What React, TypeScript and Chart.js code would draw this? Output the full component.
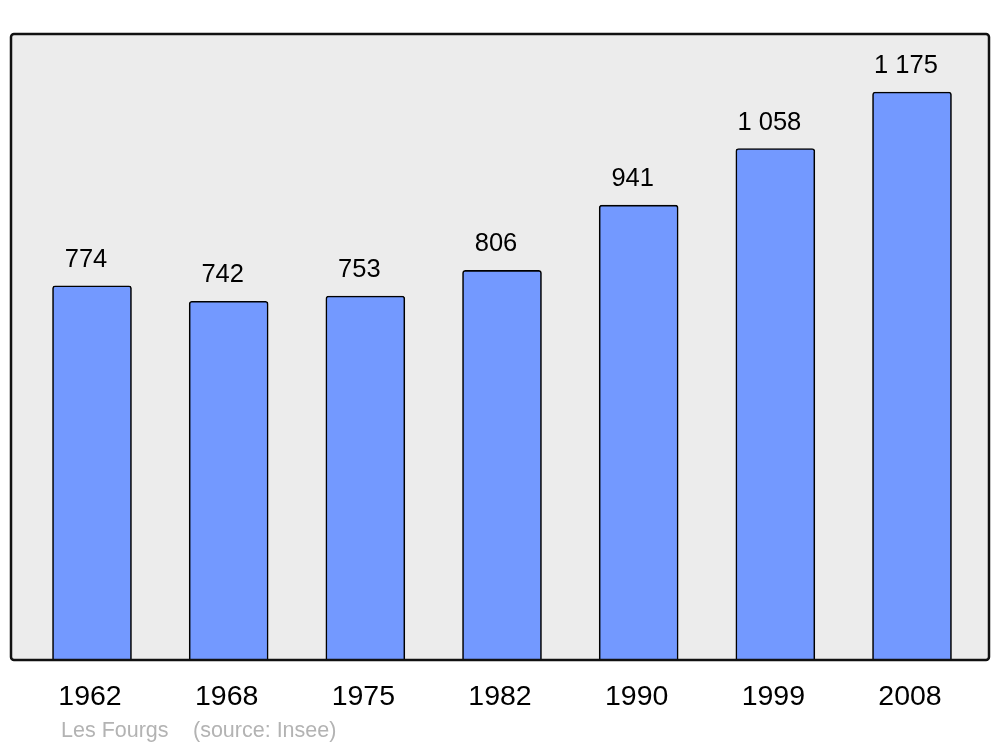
import React, { useEffect, useRef } from "react";
import { Chart, registerables } from "chart.js";

Chart.register(...registerables);

const years: string[] = ["1962", "1968", "1975", "1982", "1990", "1999", "2008"];
const population: number[] = [774, 742, 753, 806, 941, 1058, 1175];
const sourceTitle = "Les Fourgs";
const sourceNote = "(source: Insee)";

const fmt = (v: number) => {
  const s = String(v);
  return s.length > 3 ? s.slice(0, s.length - 3) + " " + s.slice(s.length - 3) : s;
};

const FONT = '"Liberation Sans", Arial, sans-serif';

function roundRectPath(ctx: CanvasRenderingContext2D, x: number, y: number, w: number, h: number, r: number) {
  ctx.beginPath();
  ctx.moveTo(x + r, y);
  ctx.lineTo(x + w - r, y);
  ctx.arcTo(x + w, y, x + w, y + r, r);
  ctx.lineTo(x + w, y + h - r);
  ctx.arcTo(x + w, y + h, x + w - r, y + h, r);
  ctx.lineTo(x + r, y + h);
  ctx.arcTo(x, y + h, x, y + h - r, r);
  ctx.lineTo(x, y + r);
  ctx.arcTo(x, y, x + r, y, r);
  ctx.closePath();
}

const framePlugin = {
  id: "frame",
  beforeDatasetsDraw(chart: any) {
    const { ctx, chartArea: a } = chart;
    ctx.save();
    roundRectPath(ctx, a.left, a.top, a.right - a.left, a.bottom - a.top, 3);
    ctx.fillStyle = "#ececec";
    ctx.fill();
    ctx.restore();
  },
  afterDatasetsDraw(chart: any) {
    const { ctx, chartArea: a } = chart;
    ctx.save();
    roundRectPath(ctx, a.left, a.top, a.right - a.left, a.bottom - a.top, 3);
    ctx.lineWidth = 2.5;
    ctx.strokeStyle = "#111111";
    ctx.stroke();

    const meta = chart.getDatasetMeta(0);
    ctx.fillStyle = "#000000";
    ctx.textAlign = "center";
    ctx.textBaseline = "alphabetic";
    meta.data.forEach((bar: any, i: number) => {
      ctx.font = `25.5px ${FONT}`;
      ctx.fillText(fmt(population[i]), bar.x - 6, bar.y - 19);
      ctx.font = `28.5px ${FONT}`;
      ctx.fillText(years[i], bar.x - 2, a.bottom + 45);
    });

    ctx.textAlign = "left";
    ctx.font = `21.5px ${FONT}`;
    ctx.fillStyle = "#b3b3b3";
    ctx.fillText(sourceTitle, 61, a.bottom + 77);
    ctx.fillText(sourceNote, 193, a.bottom + 77);
    ctx.restore();
  },
};

export default function App() {
  const ref = useRef<HTMLCanvasElement>(null);
  useEffect(() => {
    if (!ref.current) return;
    const chart = new Chart(ref.current, {
      type: "bar",
      data: {
        datasets: [
          {
            data: population.map((v, i) => ({ x: i, y: v })),
            backgroundColor: "#7399ff",
            borderColor: "#000000",
            borderWidth: 1.6,
            borderRadius: 3,
            borderSkipped: "bottom",
            barThickness: 79,
          },
        ],
      },
      options: {
        responsive: false,
        animation: false,
        layout: { padding: { left: 11, right: 11, top: 34, bottom: 87 } },
        plugins: { legend: { display: false }, tooltip: { enabled: false } },
        scales: {
          x: { type: "linear", display: false, offset: false, min: -0.5927, max: 6.5634 },
          y: { display: false, min: 0, max: 1295 },
        },
      },
      plugins: [framePlugin],
    } as any);
    return () => chart.destroy();
  }, []);
  return (
    <div style={{ position: "absolute", left: 0, top: 0, width: 1000, height: 747, background: "#ffffff" }}>
      <canvas ref={ref} width={1000} height={747} />
    </div>
  );
}
